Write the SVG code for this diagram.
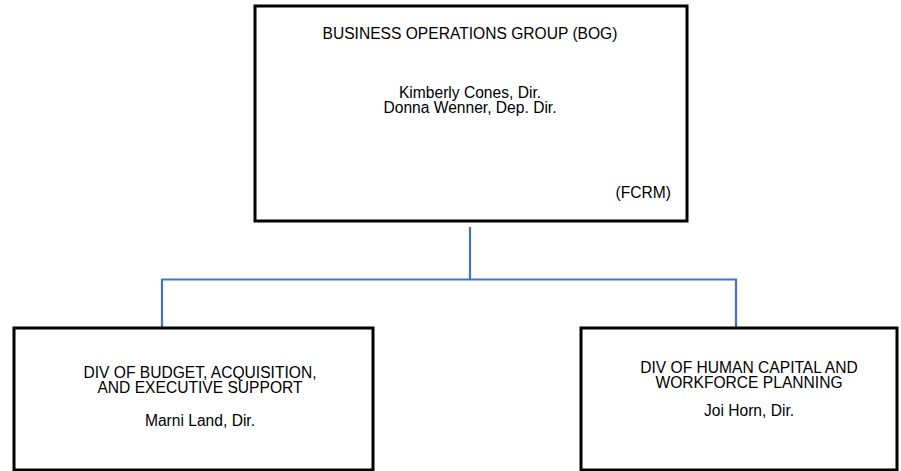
<svg xmlns="http://www.w3.org/2000/svg" width="901" height="471" viewBox="0 0 901 471">
<style>
.box{fill:#fff;stroke:#000;stroke-width:3}
.t{font-family:"Liberation Sans",Arial,sans-serif;font-size:15.6px;fill:#000;text-anchor:middle}
.c{fill:none;stroke:#4472C4;stroke-width:2.2}
</style>
<rect width="901" height="471" fill="#fff"/>
<g id="connectors">
<path class="c" d="M470,227 V279.5 M162,328 V279.5 H736 V328"/>
</g>
<g id="bog">
<rect class="box" x="255" y="6" width="432" height="215"/>
<text class="t" x="470" y="38.5">BUSINESS OPERATIONS GROUP (BOG)</text>
<text class="t" x="470" y="97.5">Kimberly Cones, Dir.</text>
<text class="t" x="470" y="112.5">Donna Wenner, Dep. Dir.</text>
<text class="t" x="671" y="198" style="text-anchor:end">(FCRM)</text>
</g>
<g id="dbaes">
<rect class="box" x="14" y="328" width="359" height="142"/>
<text class="t" x="200" y="377.5">DIV OF BUDGET, ACQUISITION,</text>
<text class="t" x="200" y="392.5">AND EXECUTIVE SUPPORT</text>
<text class="t" x="200" y="425.5">Marni Land, Dir.</text>
</g>
<g id="dhcwp">
<rect class="box" x="581" y="328" width="316" height="142"/>
<text class="t" x="749" y="372.5">DIV OF HUMAN CAPITAL AND</text>
<text class="t" x="749" y="387.5">WORKFORCE PLANNING</text>
<text class="t" x="749" y="415.5">Joi Horn, Dir.</text>
</g>
</svg>
